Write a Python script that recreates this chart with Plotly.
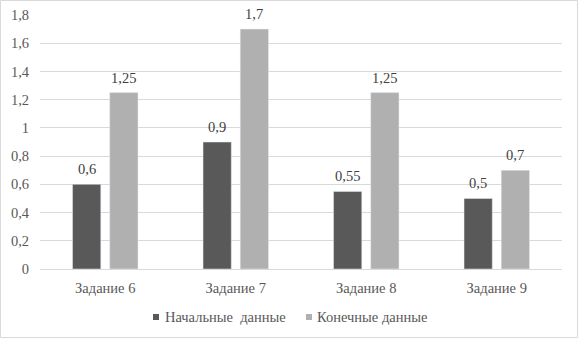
import plotly.graph_objects as go

categories = ["Задание 6", "Задание 7", "Задание 8", "Задание 9"]
initial_vals = [0.6, 0.9, 0.55, 0.5]
final_vals = [1.25, 1.7, 1.25, 0.7]
series_names = ["Начальные\u00a0 данные", "Конечные данные"]
series_colors = ["#595959", "#b0b0b0"]

def fmt(v):
    return ("%g" % v).replace(".", ",")

W, H = 578, 338
L, R, T, B = 40, 16, 15, 69
pw, ph = W - L - R, H - T - B
FONT = "Liberation Serif"
FS = 14.5

def px_x(p):
    return (p - L) / pw

def px_y(p):
    return (T + ph - p) / ph

fig = go.Figure()
for name, vals, col in zip(series_names, [initial_vals, final_vals], series_colors):
    fig.add_trace(go.Bar(x=categories, y=vals, name=name, marker_color=col,
                         showlegend=False))

annotations = []
for vals, shift in [(initial_vals, -18.5), (final_vals, 18.5)]:
    for c, v in zip(categories, vals):
        annotations.append(dict(x=c, y=v, xref="x", yref="y", text=fmt(v),
                                showarrow=False, xshift=shift, yshift=5,
                                xanchor="center", yanchor="bottom",
                                font=dict(family=FONT, size=FS, color="#404040")))

# legend entries (text + colored square)
legend_text_x = [163, 315]
legend_sq_x = [153, 306]
shapes = [dict(type="rect", xref="paper", yref="paper",
               x0=(0.5 - L) / pw, x1=(W - 0.5 - L) / pw,
               y0=px_y(H - 0.5), y1=px_y(0.5),
               line=dict(color="#d9d9d9", width=1), layer="below")]
for name, col, tx, sx in zip(series_names, series_colors, legend_text_x, legend_sq_x):
    annotations.append(dict(x=px_x(tx), y=px_y(317), xref="paper", yref="paper",
                            text=name, showarrow=False, xanchor="left", yanchor="middle",
                            font=dict(family=FONT, size=FS, color="#595959")))
    shapes.append(dict(type="rect", xref="paper", yref="paper",
                       x0=px_x(sx), x1=px_x(sx + 6), y0=px_y(320), y1=px_y(314),
                       fillcolor=col, line=dict(width=0)))

fig.update_layout(
    width=W, height=H,
    margin=dict(l=L, r=R, t=T, b=B, autoexpand=False),
    paper_bgcolor="white", plot_bgcolor="white",
    font=dict(family=FONT, size=FS, color="#595959"),
    barmode="group", bargap=0.43, bargroupgap=0.24,
    separators=", ",
    showlegend=False,
    xaxis=dict(showgrid=False, showline=True, linecolor="#d9d9d9", ticks="",
               tickfont=dict(family=FONT, size=FS, color="#595959"),
               ticklabelstandoff=6, automargin=False),
    yaxis=dict(range=[0, 1.8], dtick=0.2, showgrid=True, gridcolor="#d9d9d9",
               zeroline=False, ticks="", tickfont=dict(family=FONT, size=FS, color="#595959"),
               ticklabelstandoff=10, automargin=False),
    shapes=shapes,
    annotations=annotations,
)

fig.write_html("out.html", config={"displayModeBar": False},
               post_script="document.body.style.margin='0';")
